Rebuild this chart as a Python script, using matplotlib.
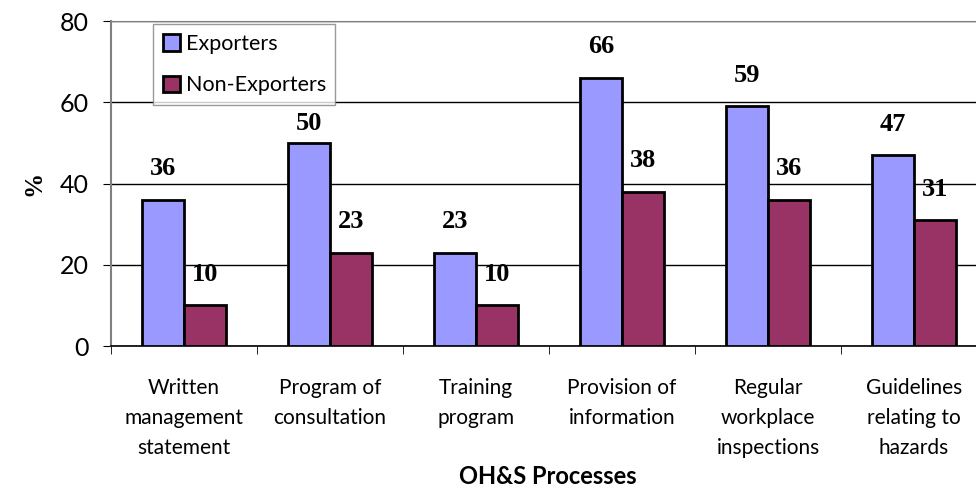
import matplotlib.pyplot as plt
import numpy as np

categories = ["Written\nmanagement\nstatement", "Program of\nconsultation", "Training\nprogram",
              "Provision of\ninformation", "Regular\nworkplace\ninspections", "Guidelines\nrelating to\nhazards"]
exporters = [36, 50, 23, 66, 59, 47]
non_exporters = [10, 23, 10, 38, 36, 31]

fig = plt.figure(figsize=(9.76, 4.9), dpi=100)
ax = fig.add_axes([111 / 976, 1 - 346 / 490, 876 / 976, 325 / 490])

x = np.arange(len(categories))
w = 0.29
b1 = ax.bar(x - w / 2, exporters, w, color="#9999FF", edgecolor="black", linewidth=2, label="Exporters", zorder=3)
b2 = ax.bar(x + w / 2, non_exporters, w, color="#993366", edgecolor="black", linewidth=2, label="Non-Exporters", zorder=3)

# label offset in points; the "50" label sits lower, under the legend line
exp_offsets = [14, 6, 14, 14, 14, 14]
non_offsets = [14, 14, 14, 14, 14, 14]
for bars, offs in ((b1, exp_offsets), (b2, non_offsets)):
    for r, off in zip(bars, offs):
        ax.annotate(f"{r.get_height():.0f}", (r.get_x() + r.get_width() / 2, r.get_height()),
                    xytext=(0, off), textcoords="offset points", ha="center", va="bottom",
                    fontsize=19, fontweight="bold", family="Liberation Serif")

ax.set_xlim(-0.5, len(categories) - 0.5)
ax.set_ylim(0, 80)
ax.set_yticks([0, 20, 40, 60, 80])
ax.yaxis.grid(True, color="black", linewidth=1)
ax.set_axisbelow(True)
ax.set_xticks(x)
ax.set_xticklabels(categories, fontsize=15, family="Lato", linespacing=1.62)
ax.set_xticks(np.arange(len(categories) + 1) - 0.5, minor=True)
ax.tick_params(axis="x", which="major", length=0, pad=23)
ax.tick_params(axis="x", which="minor", length=6, direction="out")
ax.tick_params(axis="y", length=6, labelsize=18, pad=10)
for t in ax.get_yticklabels():
    t.set_family("Lato")
ax.spines["right"].set_visible(False)
ax.spines["top"].set_color("#808080")
ax.spines["left"].set_color("#808080")
ax.spines["left"].set_linewidth(1.5)
ax.spines["bottom"].set_linewidth(1.2)

ax.set_ylabel("%", fontsize=18, fontweight="bold", family="Liberation Serif", labelpad=10)
ax.set_xlabel("OH&S Processes", fontsize=17, fontweight="bold", family="Lato", va="center")
ax.xaxis.set_label_coords((548 - 111) / 876, (346 - 476) / 325)

leg = ax.legend(loc="upper left", bbox_to_anchor=(39 / 876, 1.0), prop={"family": "Lato", "size": 15.5},
                frameon=True, fancybox=False, edgecolor="#808080", handlelength=0.8, handleheight=0.8,
                labelspacing=1.0, borderpad=0.45, handletextpad=0.25, borderaxespad=0.15)
leg.get_frame().set_linewidth(1)

fig.savefig("out.png", dpi=100)
